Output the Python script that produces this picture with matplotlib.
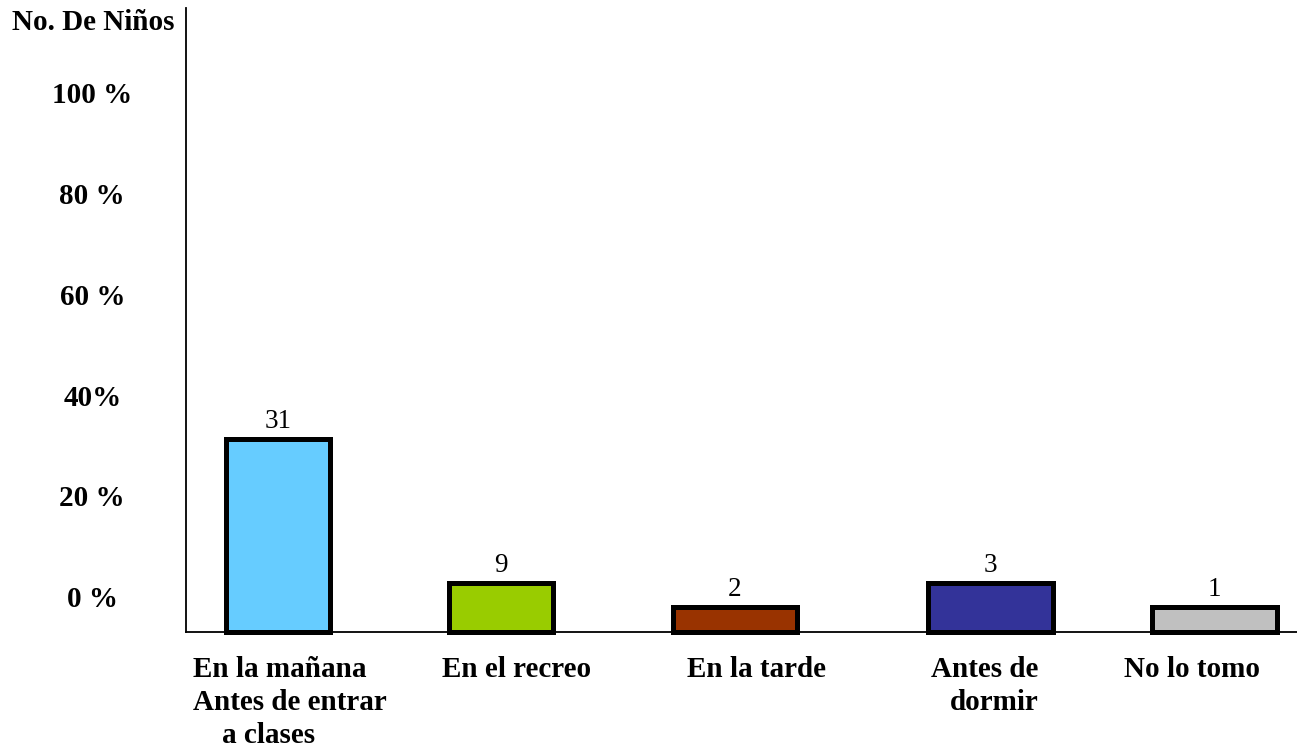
import matplotlib
matplotlib.use("Agg")
import matplotlib.pyplot as plt

# ---- data ----
categories = ["En la mañana\nAntes de entrar\n    a clases", "En el recreo", "En la tarde",
              "Antes de\ndormir", "No lo tomo"]
value_labels = ["31", "9", "2", "3", "1"]
bar_heights = [38.3, 9.7, 5.0, 9.7, 5.0]          # heights as drawn (axis units)
bar_positions = [0.0, 0.953, 1.952, 3.044, 4.0]
bar_widths = [0.444, 0.444, 0.53, 0.534, 0.534]
bar_colors = ["#66CCFF", "#99CC00", "#993300", "#333399", "#C0C0C0"]
label_positions = [0.051, 1.021, 2.042, 3.02, 3.904]
label_align = ["left", "center", "center", "right", "center"]
ytick_pos = [7, 27, 47, 67, 87, 107]
ytick_labels = ["0 %", "20 %", "40%", "60 %", "80 %", "100 %"]
y_title = "No. De Niños"

plt.rcParams["font.family"] = ["Liberation Serif", "DejaVu Serif"]

fig = plt.figure(figsize=(12.97, 7.49), dpi=100)
ax = fig.add_axes([186 / 1297, 1 - 632 / 749, 1 - 186 / 1297, (632 - 8) / 749])

ax.bar(bar_positions, bar_heights, width=bar_widths, color=bar_colors,
       edgecolor="black", linewidth=3.6, clip_on=False, zorder=3,
       joinstyle="miter")

for x, h, t in zip(bar_positions, bar_heights, value_labels):
    ax.annotate(t, xy=(x, h), xytext=(0, 3.5), textcoords="offset points",
                ha="center", va="bottom", fontsize=19.5, color="black")

for x, t, al in zip(label_positions, categories, label_align):
    ax.annotate(t, xy=(x, 0), xycoords=("data", "axes fraction"),
                xytext=(0, -17), textcoords="offset points",
                ha="center", va="top", multialignment=al,
                fontsize=21, fontweight="bold", linespacing=1.3)

ax.set_xlim(-0.393, 4.353)
ax.set_ylim(0, 123.8)
ax.set_xticks([])
ax.set_yticks(ytick_pos)
ax.set_yticklabels(ytick_labels, fontsize=21, fontweight="bold", ha="center")
ax.tick_params(axis="y", length=0, pad=67.5)

for s in ["top", "right"]:
    ax.spines[s].set_visible(False)
for s in ["left", "bottom"]:
    ax.spines[s].set_linewidth(1.3)
    ax.spines[s].set_color("black")

fig.text(93 / 1297, 1 - 23 / 749, y_title, ha="center", va="center",
         fontsize=21, fontweight="bold")

fig.savefig("out.png", dpi=100)
